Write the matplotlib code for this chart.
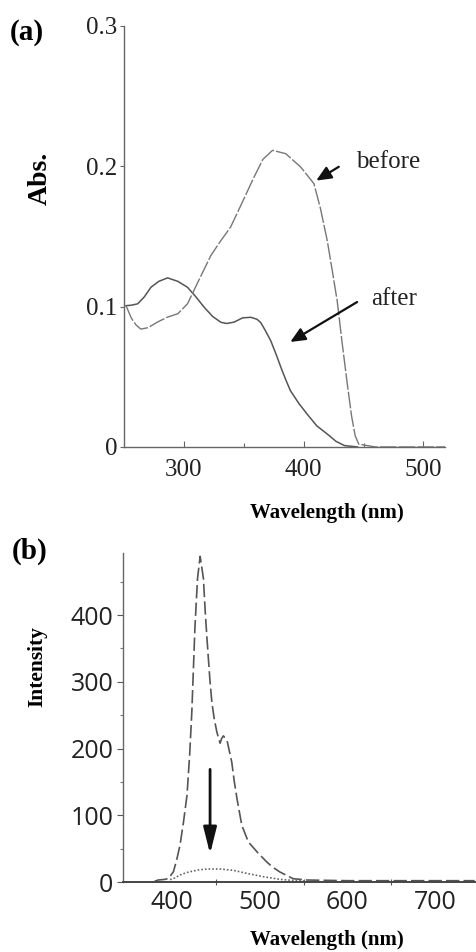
import matplotlib.pyplot as plt
import numpy as np

# (a) absorption spectra
wl_before = [251.7, 256, 260, 264, 270, 278, 286, 295, 303, 312, 322.5, 330, 339, 348,
             358.6, 366, 374, 385, 397.5, 408.6, 414, 419.7, 424, 428, 432, 436.4, 440,
             443, 446, 460, 518]
abs_before = [0.1007, 0.092, 0.087, 0.084, 0.085, 0.089, 0.0924, 0.095, 0.102, 0.118,
              0.1364, 0.146, 0.1567, 0.173, 0.1924, 0.205, 0.2114, 0.209, 0.1995, 0.1876,
              0.170, 0.147, 0.125, 0.104, 0.075, 0.045, 0.022, 0.008, 0.002, 0.0, 0.0]
wl_after = [251.7, 256, 261.4, 267, 272.5, 279, 286.4, 295, 303, 310, 317, 324, 331, 336,
            342, 349, 356, 361, 364, 368, 372.5, 377, 381, 385, 389, 396, 403, 411, 420,
            427, 434, 445]
abs_after = [0.1007, 0.101, 0.102, 0.107, 0.1138, 0.118, 0.1205, 0.118, 0.1138, 0.107,
             0.0995, 0.093, 0.0888, 0.088, 0.089, 0.092, 0.0924, 0.091, 0.0888, 0.083,
             0.0757, 0.066, 0.0567, 0.048, 0.04, 0.031, 0.0233, 0.015, 0.009, 0.004,
             0.001, 0.0]

# (b) emission spectra
wl_em = [380, 384, 392, 396, 401.5, 405, 409, 413, 417, 420, 422.5, 426, 429, 432, 435.7,
         438, 440.3, 443, 445.3, 448, 451, 454.7, 456.5, 458.5, 461, 463, 468, 471, 474,
         479.5, 487, 497, 508, 515, 523, 538, 554, 600, 700, 745]
int_before = [1, 3, 4, 5.5, 15.5, 32, 55, 90, 130, 190, 255, 380, 455, 488, 455, 400, 355,
              305, 270, 245, 225, 208, 215, 219, 215, 210, 180, 150, 125, 85, 60, 45, 30,
              22, 15, 5, 3, 2, 2, 2]
wl_em2 = [397.7, 403, 409, 416, 424, 432, 440, 455, 470, 485, 504, 523, 542, 560]
int_after = [3.5, 6, 10.5, 14, 16.5, 18.5, 19.5, 19.5, 17.5, 13, 8, 4, 2, 1]

serif = 'Liberation Serif'
fig = plt.figure(figsize=(4.76, 9.52), dpi=100)

# ---- panel (a)
ax1 = fig.add_axes([0.2605, 0.5305, 0.6744, 0.4422])
ax1.plot(wl_after, abs_after, color='#555555', lw=1.1)
ax1.plot(wl_before, abs_before, color='#777777', lw=1.0, dashes=(12, 1.5))
ax1.set_xlim(250, 518)
ax1.set_ylim(0, 0.3)
ax1.set_xticks([300, 400, 500])
ax1.set_xticks([350, 450], minor=True)
ax1.set_yticks([0, 0.1, 0.2, 0.3])
ax1.set_yticklabels(['0', '0.1', '0.2', '0.3'])
ax1.tick_params(axis='x', direction='in', length=4, width=0.8, pad=9, colors='#666666',
                labelcolor='#222222')
ax1.tick_params(axis='x', which='minor', direction='in', length=3, width=0.8, colors='#666666')
ax1.tick_params(axis='y', direction='out', length=3, width=0.8, pad=2, colors='#666666',
                labelcolor='#222222')
for lab in ax1.get_xticklabels() + ax1.get_yticklabels():
    lab.set_fontfamily(serif)
    lab.set_fontsize(18)
for s in ['top', 'right']:
    ax1.spines[s].set_visible(False)
for s in ['left', 'bottom']:
    ax1.spines[s].set_color('#666666')
    ax1.spines[s].set_linewidth(1.0)

ax1.annotate('', xy=(408.5, 0.1888), xytext=(431.3, 0.2007),
             arrowprops=dict(arrowstyle='-|>,head_length=0.9,head_width=0.4', color='#111111', lw=1.6))
ax1.text(443.8, 0.203, 'before', fontfamily=serif, fontsize=18, va='center', ha='left', color='#222222')
ax1.annotate('', xy=(386.8, 0.0738), xytext=(446.6, 0.1043),
             arrowprops=dict(arrowstyle='-|>,head_length=0.9,head_width=0.4', color='#111111', lw=1.6))
ax1.text(456.3, 0.1057, 'after', fontfamily=serif, fontsize=18, va='center', ha='left', color='#222222')

fig.text(27 / 476, 1 - 33 / 952, '(a)', fontfamily=serif, fontweight='bold', fontsize=21,
         ha='center', va='center')
fig.text(40 / 476, 1 - 178 / 952, 'Abs.', fontfamily=serif, fontweight='bold', fontsize=20,
         ha='center', va='center', rotation=90)
fig.text(327 / 476, 1 - 513 / 952, 'Wavelength (nm)', fontfamily=serif, fontweight='bold',
         fontsize=15, ha='center', va='center')

# ---- panel (b)
ax2 = fig.add_axes([0.2584, 0.0735, 0.7416, 0.3456])
ax2.plot(wl_em, int_before, color='#555555', lw=1.2, dashes=(8, 2.5))
ax2.plot(wl_em2, int_after, color='#666666', lw=1.2, dashes=(1, 1.2))
ax2.set_xlim(344, 746.6)
ax2.set_ylim(0, 493)
ax2.set_xticks([400, 500, 600, 700])
ax2.set_xticks([450, 550, 650], minor=True)
ax2.set_yticks([0, 100, 200, 300, 400])
ax2.set_yticks([50, 150, 250, 350, 450], minor=True)
ax2.tick_params(axis='x', length=0, pad=6, labelcolor='#222222')
ax2.tick_params(axis='x', which='minor', direction='inout', length=5, width=0.8, colors='#555555')
ax2.tick_params(axis='y', direction='out', length=4, width=0.8, pad=3, colors='#555555',
                labelcolor='#222222')
ax2.tick_params(axis='y', which='minor', direction='out', length=2.5, width=0.8, colors='#777777')
for lab in ax2.get_xticklabels() + ax2.get_yticklabels():
    lab.set_fontfamily('Open Sans')
    lab.set_fontsize(18)
for s in ['top', 'right']:
    ax2.spines[s].set_visible(False)
ax2.spines['left'].set_color('#666666')
ax2.spines['left'].set_linewidth(1.0)
ax2.spines['bottom'].set_color('#444444')
ax2.spines['bottom'].set_linewidth(1.4)

ax2.annotate('', xy=(443.3, 38), xytext=(443.3, 173),
             arrowprops=dict(arrowstyle='-|>,head_length=1.6,head_width=0.4', color='#111111', lw=2.0))

fig.text(30 / 476, 1 - 551 / 952, '(b)', fontfamily=serif, fontweight='bold', fontsize=21,
         ha='center', va='center')
fig.text(37 / 476, 1 - 667 / 952, 'Intensity', fontfamily=serif, fontweight='bold', fontsize=15.5,
         ha='center', va='center', rotation=90)
fig.text(327 / 476, 1 - 940 / 952, 'Wavelength (nm)', fontfamily=serif, fontweight='bold',
         fontsize=15, ha='center', va='center')

fig.savefig('out.png', dpi=100)
